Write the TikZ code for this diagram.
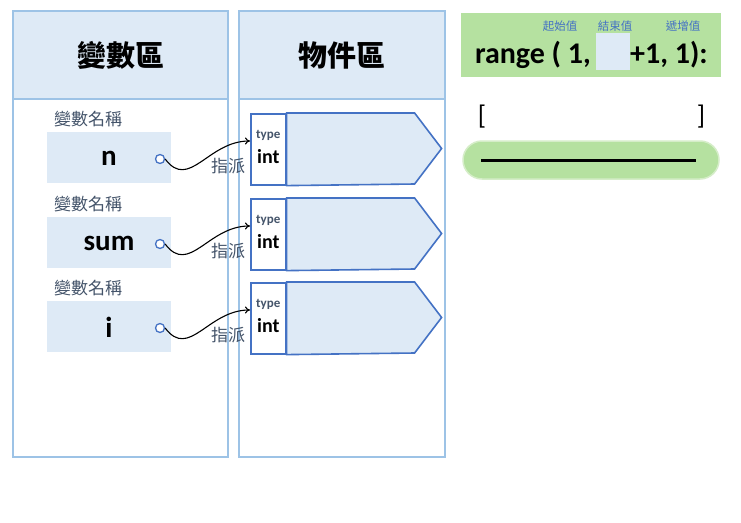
\documentclass[tikz,border=0pt]{standalone}
\usepackage{fontspec}
\setmainfont{Carlito}
\newfontfamily\cjk{Noto Sans CJK TC}
\usetikzlibrary{arrows.meta, calc, positioning}

\definecolor{panelline}{HTML}{9DC3E6}
\definecolor{panelfill}{HTML}{DEEAF6}
\definecolor{objline}{HTML}{4472C4}
\definecolor{labelgray}{HTML}{44546A}
\definecolor{rangefill}{HTML}{B5E1A0}
\definecolor{pilledge}{HTML}{D5EDC8}

\tikzset{
  panel/.style={draw=panelline, line width=1.2pt},
  title/.style={font=\cjk\fontsize{29}{32}\selectfont\bfseries},
  varlabel/.style={font=\cjk\fontsize{17}{19}\selectfont, text=labelgray},
  varbox/.style={fill=panelfill, minimum width=124pt, minimum height=51pt, inner sep=0pt, anchor=north west},
  varname/.style={font=\fontsize{29}{32}\selectfont\bfseries},
  dot/.style={circle, draw=objline, fill=white, line width=1.3pt, minimum size=9pt, inner sep=0pt},
  typebox/.style={draw=objline, fill=white, line width=1.6pt, minimum width=35pt, minimum height=71pt, inner sep=0pt, anchor=north west},
  objshape/.style={draw=objline, fill=panelfill, line width=1.6pt, line join=miter},
  typetext/.style={font=\fontsize{13}{15}\selectfont\bfseries, text=labelgray},
  inttext/.style={font=\fontsize{20}{22}\selectfont\bfseries},
  assign/.style={-{To[length=5pt, width=7pt]}, line width=1.1pt},
  assigntext/.style={font=\cjk\fontsize{17}{19}\selectfont, text=labelgray},
  rangetext/.style={font=\fontsize{30}{33}\selectfont\bfseries, inner sep=0pt},
  rangelabel/.style={font=\cjk\fontsize{11.5}{13}\selectfont, text=objline},
}

\begin{document}
\begin{tikzpicture}[x=1pt, y=-1pt]
  \useasboundingbox[fill=white] (0,0) rectangle (741,522);

  % Panels
  \draw[panel, fill=panelfill] (13,11) rectangle (228,99);
  \draw[panel] (13,99) rectangle (228,457);
  \draw[panel, fill=panelfill] (239,11) rectangle (445,99);
  \draw[panel] (239,99) rectangle (445,457);
  \node[title] (varhead) at (120.5,55) {變數區};
  \node[title] (objhead) at (342,55) {物件區};

  % Variables and objects
  \foreach \name/\y [count=\i] in {n/132, sum/217, i/301} {
    \node[varlabel] (label\i) at (88,\y-13) {變數名稱};
    \node[varbox] (var\i) at (47,\y) {};
    \node[varname] (name\i) at (109,\y+26) {\name};
    \node[dot] (dot\i) at (160,\y+27) {};
    \node[typebox] (type\i) at (250,\y-19) {};
    \draw[objshape] (type\i.north east) -- ++(128,0) -- ++(27,35.5) -- ++(-27,35.5) -- (type\i.south east) -- cycle;
    \node[typetext] (tlab\i) at ($(type\i.north)+(0,22)$) {type};
    \node[inttext] (int\i) at ($(type\i.north)+(0,44)$) {int};
    \node[assigntext] (assign\i) at (228,\y+34) {指派};
    \draw[assign] (dot\i.east) .. controls +(24,32) and +(-42,0) .. ($(type\i.north west)+(0,28)$);
  }

  % range() header
  \fill[rangefill] (461,13) rectangle (721,77);
  \node[fill=panelfill, minimum width=34pt, minimum height=37pt, inner sep=0pt, anchor=north west] (endbox) at (596,33) {};
  \node[rangetext, anchor=base east] (rstart) at (591,63) {range ( 1,};
  \node[rangetext, anchor=base west] (rend) at (630,63) {+1, 1):};
  \node[rangelabel] (startlab) at (560,26) {起始值};
  \node[rangelabel] (endlab) at (615,26) {結束值};
  \node[rangelabel] (steplab) at (683,26) {遞增值};

  % Result list
  \node[font=\fontsize{27}{30}\selectfont] (lbrack) at (482,117) {[};
  \node[font=\fontsize{27}{30}\selectfont] (rbrack) at (701,117) {]};
  \draw[fill=rangefill, draw=pilledge, line width=1.5pt, rounded corners=19pt] (463,141) rectangle (719,179);
  \coordinate (lstart) at (481,160);
  \coordinate (lend) at (696,160);
  \draw[line width=3pt] (lstart) -- (lend);
\end{tikzpicture}
\end{document}
